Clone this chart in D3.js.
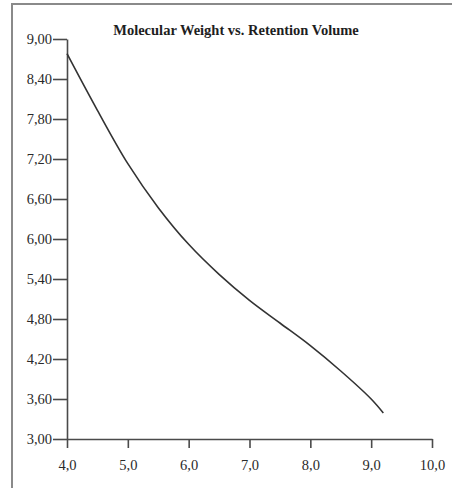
<!DOCTYPE html>
<html>
<head>
<meta charset="utf-8">
<script src="https://cdn.jsdelivr.net/npm/d3@7/dist/d3.min.js"></script>
<style>
  html, body { margin: 0; padding: 0; background: #fff; }
  svg { display: block; }
</style>
</head>
<body>
<script>
// Retention volume (x) and log molecular weight (y) along the calibration curve
const retentionVolume = [4.0, 4.5, 5.0, 5.5, 6.0, 6.5, 7.0, 7.5, 8.0, 8.5, 9.0, 9.2];
const molWeight       = [8.78, 7.93, 7.13, 6.47, 5.92, 5.47, 5.08, 4.74, 4.40, 4.02, 3.60, 3.39];

const xTicks = [4, 5, 6, 7, 8, 9, 10];
const yTicks = [3.0, 3.6, 4.2, 4.8, 5.4, 6.0, 6.6, 7.2, 7.8, 8.4, 9.0];
const titleText = "Molecular Weight vs. Retention Volume";

const W = 452, H = 488;

const locale = d3.formatLocale({ decimal: ",", thousands: ".", grouping: [3], currency: ["", ""] });
const fmtX = locale.format(".1f");
const fmtY = locale.format(".2f");

const svg = d3.select("body").append("svg")
  .attr("width", W).attr("height", H);

// frame
svg.append("path")
  .attr("d", `M12,${H} L12,4 L${W},4`)
  .attr("fill", "none")
  .attr("stroke", "#8a8a8a")
  .attr("stroke-width", 2);

const x = d3.scaleLinear().domain([4, 10]).range([67, 432]);
const y = d3.scaleLinear().domain([3, 9]).range([439, 39]);

const axisColor = "#4a4a4a";
const font = "'Liberation Serif', 'Times New Roman', serif";

// y axis
const gy = svg.append("g")
  .attr("transform", `translate(${x(4)},0)`)
  .call(d3.axisLeft(y).tickValues(yTicks).tickFormat(fmtY).tickSize(14).tickPadding(1).tickSizeOuter(0));

// x axis
const gx = svg.append("g")
  .attr("transform", `translate(0,${y(3)})`)
  .call(d3.axisBottom(x).tickValues(xTicks).tickFormat(fmtX).tickSize(9).tickPadding(12).tickSizeOuter(0));

[gx, gy].forEach(g => {
  g.select(".domain").attr("stroke", axisColor).attr("stroke-width", 1.6);
  g.selectAll(".tick line").attr("stroke", axisColor).attr("stroke-width", 1.6);
  g.selectAll(".tick text")
    .attr("fill", "#2a2a2a")
    .style("font-family", font)
    .style("font-size", "14.5px");
});
gy.selectAll(".tick text").attr("dy", "0.33em");

// title
svg.append("text")
  .attr("x", 236).attr("y", 35)
  .attr("text-anchor", "middle")
  .attr("fill", "#1e1e1e")
  .style("font-family", font)
  .style("font-weight", "bold")
  .style("font-size", "14.5px")
  .text(titleText);

// curve
const pts = retentionVolume.map((v, i) => [v, molWeight[i]]);
svg.append("path")
  .datum(pts)
  .attr("fill", "none")
  .attr("stroke", "#333")
  .attr("stroke-width", 1.6)
  .attr("d", d3.line().x(d => x(d[0])).y(d => y(d[1])).curve(d3.curveCatmullRom));
</script>
</body>
</html>
